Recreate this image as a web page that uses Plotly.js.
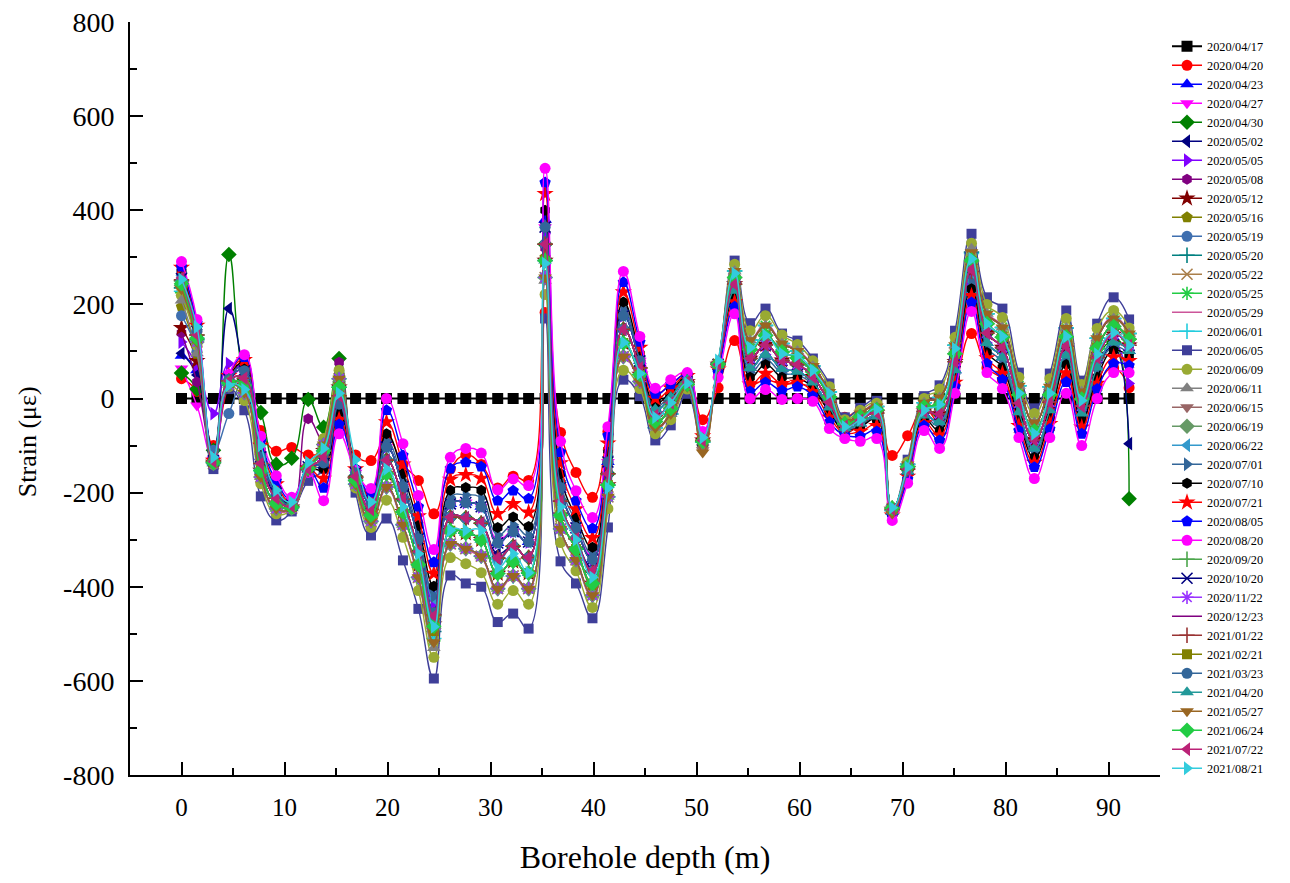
<!DOCTYPE html>
<html>
<head>
<meta charset="utf-8">
<script src="https://cdn.plot.ly/plotly-3.0.1.min.js"></script>
<style>html,body{margin:0;padding:0;background:#fff;}#chart{width:1290px;height:883px;}</style>
</head>
<body>
<div id="chart"></div>
<script>
// Borehole depth (m) of each measuring point
const depth = [0,1.5,3.1,4.6,6.1,7.7,9.2,10.7,12.3,13.8,
15.3,16.9,18.4,19.9,21.5,23,24.5,26.1,27.6,29.1,
30.7,32.2,33.7,35.3,36.8,38.3,39.9,41.4,42.9,44.5,
46,47.5,49.1,50.6,52.1,53.7,55.2,56.7,58.3,59.8,
61.3,62.9,64.4,65.9,67.5,69,70.5,72.1,73.6,75.1,
76.7,78.2,79.7,81.3,82.8,84.3,85.9,87.4,88.9,90.5,
92];

const dates = ['2020/04/17','2020/04/20','2020/04/23','2020/04/27','2020/04/30','2020/05/02','2020/05/05','2020/05/08','2020/05/12','2020/05/16','2020/05/19','2020/05/20','2020/05/22','2020/05/25','2020/05/29','2020/06/01','2020/06/05','2020/06/09','2020/06/11','2020/06/15','2020/06/19','2020/06/22','2020/07/01','2020/07/10','2020/07/21','2020/08/05','2020/08/20','2020/09/20','2020/10/20','2020/11/22','2020/12/23','2021/01/22','2021/02/21','2021/03/23','2021/04/20','2021/05/27','2021/06/24','2021/07/22','2021/08/21'];

// Strain (με) series, one per measuring date
const s_20200417 = [0,0,0,0,0,0,0,0,0,0, 0,0,0,0,0,0,0,0,0,0, 0,0,0,0,0,0,0,0,0,0, 0,0,0,0,0,0,0,0,0,0, 0,0,0,0,0,0,0,0,0,0, 0,0,0,0,0,0,0,0,0,0, 0];
const s_20200420 = [42,15,-100,30,80,-68,-112,-104,-120,-110, -50,-120,-132,-80,-140,-174,-245,-150,-120,-140, -190,-165,-174,183,-72,-157,-210,-70,90,80, 10,30,50,-45,23,123,30,40,30,32, 20,-25,-40,-23,-30,-121,-79,-20,-50,30, 138,65,40,-40,-100,-40,45,-30,30,65, 23];
const s_20200423 = [91,60,-120,40,70,-124,-201,-227,-145,-137, -12,-158,-223,-103,-187,-298,-420,-224,-221,-230, -307,-283,-305,380,-189,-275,-342,-135,176,80, -23,3,40,-87,71,229,65,93,63,57, 34,-19,-63,-53,-38,-240,-155,-36,-50,60, 245,118,87,-29,-106,-25,92,-32,66,119, 101];
const s_20200427 = [64,-15,-130,35,60,-124,-201,-227,-145,-137, -12,-158,-223,-103,-187,-298,-429,-224,-221,-230, -300,-283,-305,364,-189,-275,-335,-135,176,80, -36,-9,35,-89,72,243,85,114,81,72, 46,-8,-59,-46,-31,-236,-150,-27,-33,78, 272,139,108,-10,-88,-8,111,-16,87,136, 113];
const s_20200430 = [54,20,-110,306,40,-30,-140,-127,-2,-61, 85,-166,-236,-131,-214,-325,-459,-252,-254,-265, -339,-314,-338,328,-218,-298,-367,-160,147,65, -36,-9,35,-89,72,243,85,114,81,72, 46,-8,-59,-46,-31,-236,-150,-27,-33,78, 272,139,108,-10,-88,-8,111,-16,87,120, -213];
const s_20200502 = [96,50,-115,191,50,-100,-212,-229,-150,-124, 6,-166,-236,-131,-214,-325,-450,-252,-254,-265, -330,-314,-338,328,-218,-298,-360,-160,147,65, -23,3,40,-87,71,229,65,93,63,57, 34,-19,-63,-53,-38,-240,-155,-36,-50,60, 252,118,87,-29,-106,-25,92,-32,66,110, -96];
const s_20200505 = [120,70,-32,74,50,-124,-201,-227,-145,-137, -12,-158,-223,-103,-187,-298,-435,-224,-221,-230, -307,-283,-305,350,-189,-275,-342,-135,176,80, -23,3,40,-87,71,229,65,93,63,57, 34,-19,-63,-53,-38,-240,-155,-36,-50,60, 258,118,87,-29,-106,-25,92,-32,66,119, 32];
const s_20200508 = [139,35,-120,40,40,-138,-212,-229,-43,-90, 77,-166,-236,-131,-214,-325,-465,-252,-254,-265, -339,-314,-338,320,-218,-298,-367,-160,147,65, -36,-9,35,-89,72,243,85,114,81,72, 46,-8,-59,-46,-31,-236,-150,-27,-33,78, 280,139,108,-10,-88,-8,111,-16,87,136, 113];
const s_20200512 = [150,80,-136,33,28,-153,-223,-231,-148,-111, 24,-174,-248,-160,-241,-353,-480,-281,-286,-300, -372,-346,-371,293,-248,-320,-393,-184,118,51, -36,-9,35,-89,72,243,85,114,81,72, 46,-8,-59,-46,-31,-236,-150,-27,-33,78, 272,139,108,-10,-88,-8,111,-16,87,136, 113];
const s_20200516 = [195,95,-136,33,28,-153,-223,-231,-148,-111, 24,-174,-248,-160,-241,-353,-500,-281,-286,-300, -372,-346,-371,300,-248,-320,-400,-184,118,51, -49,-21,30,-91,73,257,104,134,99,86, 57,3,-54,-39,-24,-233,-145,-18,-15,95, 295,159,130,8,-69,8,131,-1,107,153, 126];
const s_20200519 = [176,100,-110,-32,43,-138,-212,-230,-150,-124, 6,-166,-236,-131,-214,-325,-455,-252,-254,-265, -345,-314,-338,328,-218,-298,-367,-160,147,65, -49,-21,30,-91,73,257,104,134,99,86, 57,3,-54,-39,-24,-233,-145,-18,-15,95, 291,159,130,8,-69,8,131,-1,107,153, 126];
const s_20200520 = [235,125,-136,33,28,-153,-223,-231,-148,-111, 24,-174,-248,-160,-241,-353,-495,-281,-286,-300, -372,-346,-371,293,-248,-320,-393,-184,118,51, -62,-33,25,-93,74,271,124,155,117,101, 69,14,-50,-32,-17,-238,-140,-9,2,113, 311,180,151,27,-51,25,150,15,128,170, 138];
const s_20200522 = [230,120,-138,29,12,-167,-234,-233,-152,-98, 42,-182,-261,-188,-268,-380,-510,-309,-319,-335, -404,-377,-404,257,-277,-343,-418,-209,89,36, -49,-21,30,-91,73,257,104,134,99,86, 57,3,-54,-39,-24,-233,-145,-18,-15,95, 300,159,130,8,-69,8,131,-1,107,153, 126];
const s_20200525 = [225,120,-138,29,12,-167,-234,-233,-152,-98, 42,-182,-261,-188,-268,-380,-515,-309,-319,-335, -404,-377,-404,257,-277,-343,-418,-209,89,36, -62,-33,25,-93,74,271,124,155,117,101, 69,14,-50,-32,-17,-238,-140,-9,2,113, 305,180,151,27,-51,25,150,15,128,170, 138];
const s_20200529 = [235,118,-140,27,10,-170,-238,-235,-155,-100, 40,-185,-265,-192,-272,-385,-525,-312,-322,-338, -408,-380,-408,265,-280,-346,-422,-212,86,34, -64,-35,23,-95,76,275,127,158,120,104, 71,16,-48,-30,-15,-240,-142,-7,4,115, 315,183,154,29,-49,27,153,17,131,173, 140];
const s_20200601 = [228,128,-136,33,28,-153,-223,-231,-148,-111, 42,-182,-261,-188,-268,-380,-510,-309,-319,-335, -404,-377,-404,257,-277,-343,-418,-209,89,36, -62,-33,25,-93,74,271,124,155,117,101, 69,14,-50,-32,-17,-238,-140,-9,2,113, 308,180,151,27,-51,25,150,15,128,170, 138];
const s_20200605 = [265,120,-150,20,-25,-208,-259,-240,-175,-150, 50,-200,-291,-255,-344,-447,-595,-376,-393,-400, -475,-457,-489,170,-346,-393,-467,-274,40,5, -89,-57,10,-100,70,293,160,191,138,123, 85,32,-40,-20,-5,-235,-130,5,28,144, 350,215,191,55,-21,53,187,38,159,215, 168];
const s_20200609 = [219,113,-140,25,-4,-181,-245,-235,-150,-85, 60,-190,-274,-216,-295,-408,-550,-338,-351,-370, -437,-408,-437,221,-306,-366,-444,-234,60,21, -75,-45,20,-95,75,285,144,176,135,115, 80,25,-45,-25,-10,-240,-135,0,20,130, 330,200,172,45,-32,42,170,30,149,187, 150];
const s_20200611 = [208,96,-138,29,12,-167,-234,-233,-152,-98, 42,-182,-261,-188,-268,-380,-530,-309,-319,-335, -404,-377,-404,250,-277,-343,-418,-209,89,36, -62,-33,25,-93,74,271,124,155,117,101, 69,14,-50,-32,-17,-238,-140,-9,2,113, 318,180,151,27,-51,25,150,15,128,170, 138];
const s_20200615 = [238,128,-136,33,28,-153,-223,-231,-148,-111, 24,-174,-248,-160,-241,-353,-492,-281,-286,-300, -372,-346,-371,293,-248,-320,-393,-184,118,51, -49,-21,30,-110,73,257,104,134,99,86, 57,3,-60,-39,-24,-233,-145,-18,-15,95, 291,159,130,8,-69,8,131,-1,107,153, 126];
const s_20200619 = [240,120,-138,29,12,-167,-234,-233,-152,-98, 42,-182,-261,-188,-268,-380,-488,-309,-319,-335, -404,-377,-404,257,-277,-343,-418,-209,89,36, -49,-21,30,-91,73,257,104,134,99,86, 57,3,-54,-39,-24,-233,-145,-18,-15,95, 293,159,130,8,-69,8,131,-1,107,153, 126];
const s_20200622 = [262,143,-132,41,59,-124,-201,-227,-145,-137, -12,-158,-223,-103,-187,-298,-425,-224,-221,-230, -307,-283,-305,364,-189,-275,-342,-135,176,80, -23,3,40,-87,71,229,65,93,63,57, 34,-19,-63,-53,-38,-240,-155,-36,-50,60, 250,118,87,-29,-106,-25,92,-32,66,119, 101];
const s_20200701 = [268,146,-131,43,66,-118,-196,-226,-148,-143, -20,-154,-216,-90,-174,-285,-420,-210,-205,-212, -290,-268,-290,370,-175,-263,-330,-122,190,88, -17,9,42,-86,70,222,55,83,54,50, 29,-25,-66,-57,-42,-243,-158,-41,-59,52, 248,108,77,-38,-116,-34,82,-40,56,110, 95];
const s_20200710 = [275,150,-130,45,75,-110,-190,-225,-150,-150, -30,-150,-210,-75,-160,-270,-399,-195,-189,-195, -274,-252,-272,400,-160,-252,-316,-110,205,95, -10,15,45,-85,70,215,45,72,45,43, 23,-30,-68,-60,-45,-245,-160,-45,-68,43, 233,98,66,-47,-125,-42,72,-47,45,102, 89];
const s_20200721 = [278,155,-132,48,82,-100,-182,-220,-150,-170, -45,-150,-205,-50,-140,-250,-372,-172,-162,-170, -245,-224,-242,435,-137,-235,-296,-95,226,108, 0,22,48,-80,62,205,30,53,31,34, 14,-40,-73,-70,-58,-248,-166,-52,-78,34, 218,86,53,-58,-136,-54,54,-61,32,88, 80];
const s_20200805 = [280,160,-135,50,88,-90,-175,-215,-150,-190, -55,-150,-200,-25,-121,-230,-348,-149,-136,-145, -217,-196,-213,459,-114,-217,-276,-79,247,120, 10,30,50,-75,55,195,15,34,17,25, 5,-50,-78,-80,-70,-250,-172,-58,-89,25, 204,74,40,-68,-146,-65,35,-75,20,74, 70];
const s_20200820 = [291,168,-135,51,93,-80,-164,-210,-157,-217, -75,-153,-191,0,-96,-206,-321,-125,-106,-116, -194,-171,-185,489,-91,-196,-253,-60,270,132, 22,40,55,-70,45,180,0,19,-2,0, -6,-64,-85,-91,-85,-259,-180,-68,-106,11, 185,55,21,-83,-170,-83,11,-100,0,55, 55];
const s_20200920 = [250,135,-134,37,43,-138,-212,-229,-150,-124, 6,-166,-236,-131,-214,-325,-462,-252,-254,-265, -339,-314,-338,328,-218,-298,-367,-160,147,65, -49,-21,30,-91,73,257,104,134,99,86, 57,3,-54,-39,-24,-233,-145,-18,-15,95, 291,159,130,8,-69,8,131,-1,107,153, 126];
const s_20201020 = [255,143,-132,41,59,-124,-201,-227,-145,-137, -12,-158,-223,-103,-187,-298,-458,-224,-221,-230, -307,-283,-305,364,-189,-275,-342,-135,176,80, -36,-9,35,-89,72,243,85,114,81,72, 46,-8,-59,-46,-31,-236,-150,-27,-33,78, 275,139,108,-10,-88,-8,111,-16,87,136, 113];
const s_20201122 = [245,120,-138,29,12,-167,-234,-233,-152,-98, 42,-182,-261,-188,-268,-380,-490,-309,-319,-335, -404,-377,-404,257,-277,-343,-418,-209,89,36, -36,-9,35,-89,72,243,85,114,81,72, 46,-8,-59,-46,-31,-236,-150,-27,-33,78, 272,139,108,-10,-88,-8,111,-16,87,136, 113];
const s_20201223 = [243,135,-134,37,43,-138,-212,-229,-150,-124, 6,-166,-236,-131,-214,-325,-486,-252,-254,-265, -339,-314,-338,328,-218,-298,-367,-160,147,65, -62,-33,25,-93,74,271,124,155,117,101, 69,14,-50,-32,-17,-238,-140,-9,2,113, 290,180,151,27,-51,25,150,15,128,170, 138];
const s_20210122 = [252,135,-134,37,43,-138,-212,-229,-150,-124, 6,-166,-236,-131,-214,-325,-460,-252,-254,-265, -339,-314,-338,328,-218,-298,-367,-160,147,65, -36,-9,35,-89,72,243,85,114,81,72, 46,-8,-59,-46,-31,-236,-150,-27,-33,78, 270,139,108,-10,-88,-8,111,-16,87,136, 113];
const s_20210221 = [240,128,-136,33,28,-153,-223,-231,-148,-111, 24,-174,-248,-160,-241,-353,-494,-281,-286,-300, -372,-346,-371,293,-248,-320,-393,-184,118,51, -49,-21,30,-91,73,257,104,134,99,86, 57,3,-54,-39,-24,-233,-145,-18,-15,95, 292,159,130,8,-69,8,131,-1,107,153, 126];
const s_20210323 = [250,143,-132,41,59,-124,-201,-227,-145,-137, -12,-158,-223,-103,-187,-298,-456,-224,-221,-230, -307,-283,-305,364,-189,-275,-342,-135,176,80, -49,-21,30,-91,73,257,104,134,99,86, 57,3,-54,-39,-24,-233,-145,-18,-15,95, 291,159,130,8,-69,8,131,-1,107,153, 126];
const s_20210420 = [255,128,-136,33,28,-153,-223,-231,-148,-111, 24,-174,-248,-160,-241,-353,-468,-281,-286,-300, -372,-346,-371,293,-248,-320,-393,-184,118,51, -23,3,40,-87,71,229,65,93,63,57, 34,-19,-63,-53,-38,-240,-155,-36,-50,60, 276,118,87,-29,-106,-25,92,-32,66,119, 101];
const s_20210527 = [232,120,-138,29,12,-167,-234,-233,-152,-98, 42,-182,-261,-188,-268,-380,-518,-309,-319,-335, -404,-377,-404,257,-277,-343,-418,-209,89,36, -62,-33,25,-115,74,271,124,155,117,101, 69,14,-50,-32,-17,-245,-140,-9,2,113, 311,180,151,27,-51,25,150,15,128,170, 138];
const s_20210624 = [244,128,-136,33,28,-153,-223,-231,-148,-111, 24,-174,-248,-160,-241,-353,-484,-281,-286,-300, -372,-346,-371,293,-248,-320,-393,-184,118,51, -49,-21,30,-91,73,257,104,134,99,86, 57,3,-54,-39,-24,-233,-145,-18,-15,95, 294,159,130,8,-69,8,131,-1,107,153, 126];
const s_20210722 = [256,135,-134,37,43,-138,-212,-229,-150,-124, 6,-166,-236,-131,-214,-325,-462,-252,-254,-265, -339,-314,-338,328,-218,-298,-367,-160,147,65, -36,-9,35,-89,72,243,85,114,81,72, 46,-8,-59,-46,-31,-236,-150,-27,-33,78, 274,139,108,-10,-88,-8,111,-16,87,136, 113];
const s_20210821 = [253,152,-125,28,19,-100,-195,-220,-136,-106, 11,-130,-220,-150,-230,-330,-485,-280,-280,-280, -360,-330,-370,287,-230,-300,-380,-190,119,53, -40,-9,32,-83,81,266,108,134,95,91, 60,11,-60,-45,-23,-232,-146,-25,-13,106, 297,159,132,11,-75,11,132,-4,94,140, 113];

const seriesValues = [s_20200417,s_20200420,s_20200423,s_20200427,s_20200430,s_20200502,s_20200505,s_20200508,s_20200512,s_20200516,s_20200519,s_20200520,s_20200522,s_20200525,s_20200529,s_20200601,s_20200605,s_20200609,s_20200611,s_20200615,s_20200619,s_20200622,s_20200701,s_20200710,s_20200721,s_20200805,s_20200820,s_20200920,s_20201020,s_20201122,s_20201223,s_20210122,s_20210221,s_20210323,s_20210420,s_20210527,s_20210624,s_20210722,s_20210821];

// styles
const colors = ['#000000','#FF0000','#0000FF','#FF00FF','#008000','#000080','#8000FF','#800080','#800000','#808000','#3F6FAF','#008080','#AA7F4A','#22CC44','#CC5599','#22CCDD','#3F3F99','#99AA33','#808080','#996666','#669966','#3399CC','#336699','#000000','#FF0000','#0000FF','#FF00FF','#4CA64C','#000080','#9933FF','#800080','#993333','#808000','#336699','#229999','#996622','#22CC44','#BB2277','#33CCDD'];
const symbols = ['square','circle','triangle-up','triangle-down','diamond','triangle-left','triangle-right','hexagon','star','pentagon','circle','cross-thin','x-thin','asterisk',null,'cross-thin','square','circle','triangle-up','triangle-down','diamond','triangle-left','triangle-right','hexagon','star','pentagon','circle','cross-thin','x-thin','asterisk',null,'cross-thin','square','circle','triangle-up','triangle-down','diamond','triangle-left','triangle-right'];
const symSize = {'square':10,'circle':11,'triangle-up':12,'triangle-down':12,'diamond':12,'triangle-left':12,'triangle-right':12,'hexagon':11,'star':13,'pentagon':12,'cross-thin':11,'x-thin':11,'asterisk':11};

const yTickVals = [-800,-600,-400,-200,0,200,400,600,800];
const yTickText = ['-800','-600','-400','-200','0','200','400','600','800'];
const yMinorVals = [-700,-500,-300,-100,100,300,500,700];

const FONT = 'Liberation Serif, Times New Roman, serif';

const traces = dates.map((d, k) => {
  const sym = symbols[k];
  const thin = sym && /thin|asterisk/.test(sym);
  const t = {
    type: 'scatter',
    x: depth,
    y: seriesValues[k],
    name: d,
    mode: sym ? 'lines+markers' : 'lines',
    line: {color: colors[k], width: k === 0 ? 2 : 1.4, shape: k === 0 ? 'linear' : 'spline', smoothing: 1.3},
    hoverinfo: 'skip'
  };
  if (sym) {
    t.marker = {
      symbol: sym,
      size: k === 0 ? 11 : symSize[sym],
      color: colors[k],
      line: {color: colors[k], width: thin ? 1.6 : 0}
    };
  }
  return t;
});

const layout = {
  width: 1290, height: 883,
  margin: {l: 130, r: 130, t: 22, b: 108, pad: 0},
  paper_bgcolor: '#ffffff', plot_bgcolor: '#ffffff',
  showlegend: true,
  hovermode: false,
  font: {family: FONT, color: '#000'},
  xaxis: {
    range: [-5, 95], tickmode: 'linear', tick0: 0, dtick: 10,
    ticks: 'inside', ticklen: 13, tickwidth: 2, tickcolor: '#000',
    showline: true, linewidth: 2, linecolor: '#000', mirror: false,
    showgrid: false, zeroline: false,
    tickfont: {family: FONT, size: 25, color: '#000'},
    ticklabelstandoff: 9,
    minor: {tick0: 0, dtick: 5, ticks: 'inside', ticklen: 7, tickwidth: 2, tickcolor: '#000', showgrid: false},
    title: {text: 'Borehole depth (m)', font: {family: FONT, size: 32, color: '#000'}, standoff: 26}
  },
  yaxis: {
    range: [-800, 800], tickmode: 'array', tickvals: yTickVals, ticktext: yTickText,
    ticks: 'inside', ticklen: 13, tickwidth: 2, tickcolor: '#000',
    showline: true, linewidth: 2, linecolor: '#000', mirror: false,
    showgrid: false, zeroline: false,
    tickfont: {family: FONT, size: 28, color: '#000'},
    ticklabelstandoff: 8,
    minor: {tickmode: 'array', tickvals: yMinorVals, ticks: 'inside', ticklen: 7, tickwidth: 2, tickcolor: '#000', showgrid: false}
  },
  legend: {
    x: 1.0068, xanchor: 'left', y: 0.987, yanchor: 'top',
    font: {family: FONT, size: 12.3, color: '#000'},
    bgcolor: 'rgba(0,0,0,0)', borderwidth: 0, tracegroupgap: 0, itemwidth: 30
  },
  annotations: [{
    text: 'Strain (με)', xref: 'paper', yref: 'paper', x: -0.1, y: 0.442,
    textangle: -90, showarrow: false, xanchor: 'center', yanchor: 'middle',
    font: {family: FONT, size: 26, color: '#000'}
  }]
};

Plotly.newPlot('chart', traces, layout, {displayModeBar: false, staticPlot: true});
</script>
</body>
</html>
